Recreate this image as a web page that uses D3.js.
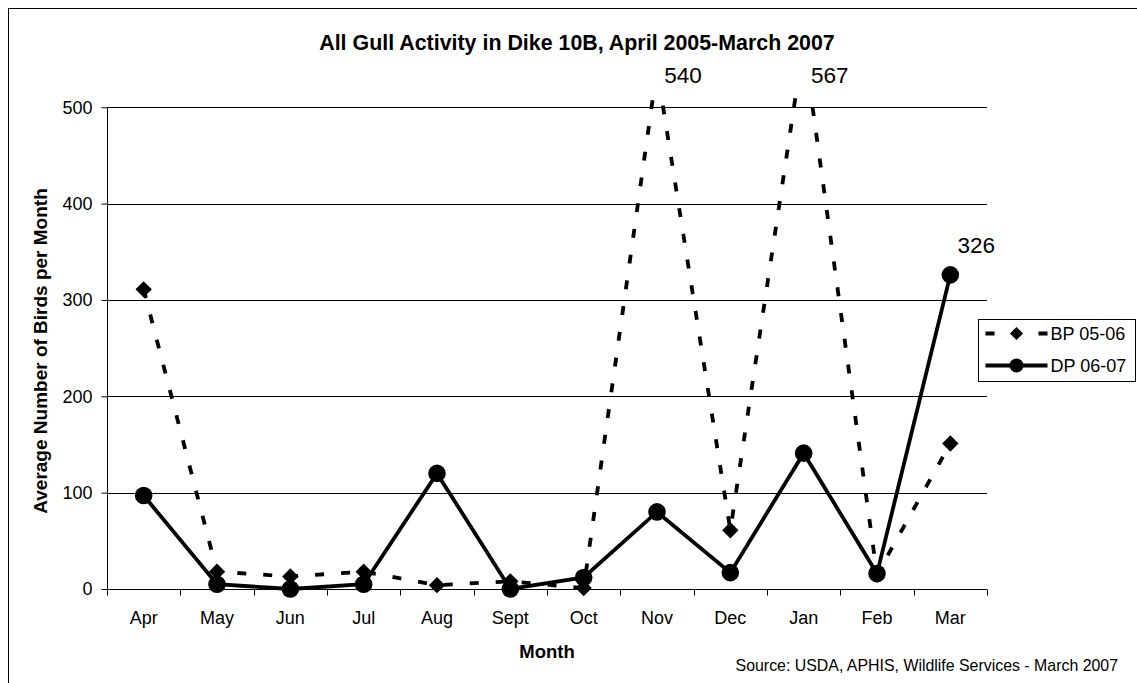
<!DOCTYPE html>
<html lang="en">
<head>
    <meta charset="UTF-8">
    <title>All Gull Activity in Dike 10B</title>
    <script src="https://d3js.org/d3.v7.min.js"></script>
    <style>
        body {
            margin: 0;
            background: #fff;
            font-family: 'Liberation Sans', Arial, sans-serif;
            overflow: hidden;
        }
    </style>
</head>
<body>
    <script>
        const months = ["Apr", "May", "Jun", "Jul", "Aug", "Sept", "Oct", "Nov", "Dec", "Jan", "Feb", "Mar"];
        const bp0506 = [311, 18, 13, 18, 4, 8, 1, 540, 61, 567, 15, 151];
        const dp0607 = [97, 5, 0, 5, 120, 0, 12, 80, 17, 141, 16, 326];
        const yTicks = [0, 100, 200, 300, 400, 500];
        const callouts = [
            { series: "bp", i: 7, text: "540" },
            { series: "bp", i: 9, text: "567" },
            { series: "dp", i: 11, text: "326" }
        ];

        const width = 1137;
        const height = 683;
        const plotLeft = 107, plotRight = 987, plotTop = 97, plotBottom = 589;

        const svg = d3.select("body")
            .append("svg")
            .attr("width", width)
            .attr("height", height);

        // outer chart border (runs off the right / bottom edge)
        svg.append("rect")
            .attr("x", 8.5).attr("y", 8.5)
            .attr("width", 1140).attr("height", 700)
            .attr("fill", "none")
            .attr("stroke", "#000")
            .attr("stroke-width", 1);

        const x = d3.scaleBand()
            .domain(months)
            .range([plotLeft, plotRight]);

        const y = d3.scaleLinear()
            .domain([0, 500])
            .range([plotBottom, plotBottom - 500 * 0.9635]);

        // gridlines
        svg.append("g")
            .selectAll("line")
            .data(yTicks.filter(d => d > 0))
            .join("line")
            .attr("x1", plotLeft).attr("x2", plotRight)
            .attr("y1", d => Math.round(y(d)) + 0.5)
            .attr("y2", d => Math.round(y(d)) + 0.5)
            .attr("stroke", "#000")
            .attr("stroke-width", 1);

        // y axis
        const yAxis = svg.append("g")
            .attr("transform", `translate(${plotLeft + 0.5},0)`)
            .call(d3.axisLeft(y).tickValues(yTicks).tickSize(6).tickPadding(9));
        yAxis.select(".domain").attr("d", `M0,${y(500)}V${plotBottom}`);
        yAxis.selectAll("text")
            .style("font-size", "18px")
            .style("font-family", "'Liberation Sans', Arial, sans-serif")
            .attr("fill", "#000");

        // x axis with ticks between categories
        const xAxis = svg.append("g")
            .attr("transform", `translate(0,${Math.round(plotBottom) + 0.5})`);
        xAxis.append("line")
            .attr("x1", plotLeft).attr("x2", plotRight)
            .attr("stroke", "#000");
        xAxis.selectAll("line.tick")
            .data(d3.range(months.length + 1))
            .join("line")
            .attr("class", "tick")
            .attr("x1", i => Math.round(plotLeft + i * x.step()) + 0.5)
            .attr("x2", i => Math.round(plotLeft + i * x.step()) + 0.5)
            .attr("y1", 0).attr("y2", 6)
            .attr("stroke", "#000");
        xAxis.selectAll("text")
            .data(months)
            .join("text")
            .attr("x", d => x(d) + x.bandwidth() / 2)
            .attr("y", 34)
            .attr("text-anchor", "middle")
            .style("font-size", "18px")
            .text(d => d);

        const cx = i => x(months[i]) + x.bandwidth() / 2;

        svg.append("clipPath").attr("id", "plot")
            .append("rect")
            .attr("x", plotLeft).attr("y", plotTop)
            .attr("width", plotRight - plotLeft).attr("height", plotBottom - plotTop + 20);

        const line = d3.line()
            .x((d, i) => cx(i))
            .y(d => y(d));

        const plot = svg.append("g").attr("clip-path", "url(#plot)");

        plot.append("path")
            .datum(bp0506)
            .attr("d", line)
            .attr("fill", "none")
            .attr("stroke", "#000")
            .attr("stroke-width", 3.8)
            .attr("stroke-dasharray", "9,17");

        plot.append("path")
            .datum(dp0607)
            .attr("d", line)
            .attr("fill", "none")
            .attr("stroke", "#000")
            .attr("stroke-width", 3.8);

        const diamond = d3.symbol().type(d3.symbolDiamond2).size(170);

        plot.selectAll("path.bp")
            .data(bp0506)
            .join("path")
            .attr("class", "bp")
            .attr("d", diamond)
            .attr("transform", (d, i) => `translate(${cx(i)},${y(d)})`)
            .attr("fill", "#000");

        plot.selectAll("circle.dp")
            .data(dp0607)
            .join("circle")
            .attr("class", "dp")
            .attr("cx", (d, i) => cx(i))
            .attr("cy", d => y(d))
            .attr("r", 8.8)
            .attr("fill", "#000");

        // value callouts (off-scale values sit just above the plot)
        svg.selectAll("text.callout")
            .data(callouts)
            .join("text")
            .attr("class", "callout")
            .attr("x", d => cx(d.i) + 26)
            .attr("y", d => {
                const v = d.series === "bp" ? bp0506[d.i] : dp0607[d.i];
                return v > 500 ? 83 : y(v) - 22;
            })
            .attr("text-anchor", "middle")
            .style("font-size", "22.5px")
            .text(d => d.text);

        // titles
        svg.append("text")
            .attr("x", 577).attr("y", 50)
            .attr("text-anchor", "middle")
            .style("font-size", "21.4px")
            .style("font-weight", "bold")
            .text("All Gull Activity in Dike 10B, April 2005-March 2007");

        svg.append("text")
            .attr("transform", "translate(47,351) rotate(-90)")
            .attr("text-anchor", "middle")
            .style("font-size", "19px")
            .style("font-weight", "bold")
            .text("Average Number of Birds per Month");

        svg.append("text")
            .attr("x", 547).attr("y", 658)
            .attr("text-anchor", "middle")
            .style("font-size", "18.5px")
            .style("font-weight", "bold")
            .text("Month");

        svg.append("text")
            .attr("x", 1118).attr("y", 671)
            .attr("text-anchor", "end")
            .style("font-size", "15.9px")
            .text("Source: USDA, APHIS, Wildlife Services - March 2007");

        // legend
        const legend = svg.append("g").attr("transform", "translate(978.5,319.5)");
        legend.append("rect")
            .attr("width", 157).attr("height", 62)
            .attr("fill", "#fff")
            .attr("stroke", "#000");

        const rows = [
            { name: "BP 05-06", dash: true, marker: "diamond" },
            { name: "DP 06-07", dash: false, marker: "circle" }
        ];
        const row = legend.selectAll("g.row")
            .data(rows)
            .join("g")
            .attr("class", "row")
            .attr("transform", (d, i) => `translate(0,${14 + i * 32})`);
        row.append("line")
            .attr("x1", 7).attr("x2", 69)
            .attr("stroke", "#000")
            .attr("stroke-width", 3.8)
            .attr("stroke-dasharray", d => d.dash ? "9,44" : null);
        row.filter(d => d.marker === "diamond")
            .append("path")
            .attr("d", d3.symbol().type(d3.symbolDiamond2).size(110))
            .attr("transform", "translate(38,0)");
        row.filter(d => d.marker === "circle")
            .append("circle")
            .attr("cx", 38).attr("r", 7);
        row.append("text")
            .attr("x", 72).attr("y", 6.5)
            .style("font-size", "18px")
            .text(d => d.name);
    </script>
</body>
</html>
